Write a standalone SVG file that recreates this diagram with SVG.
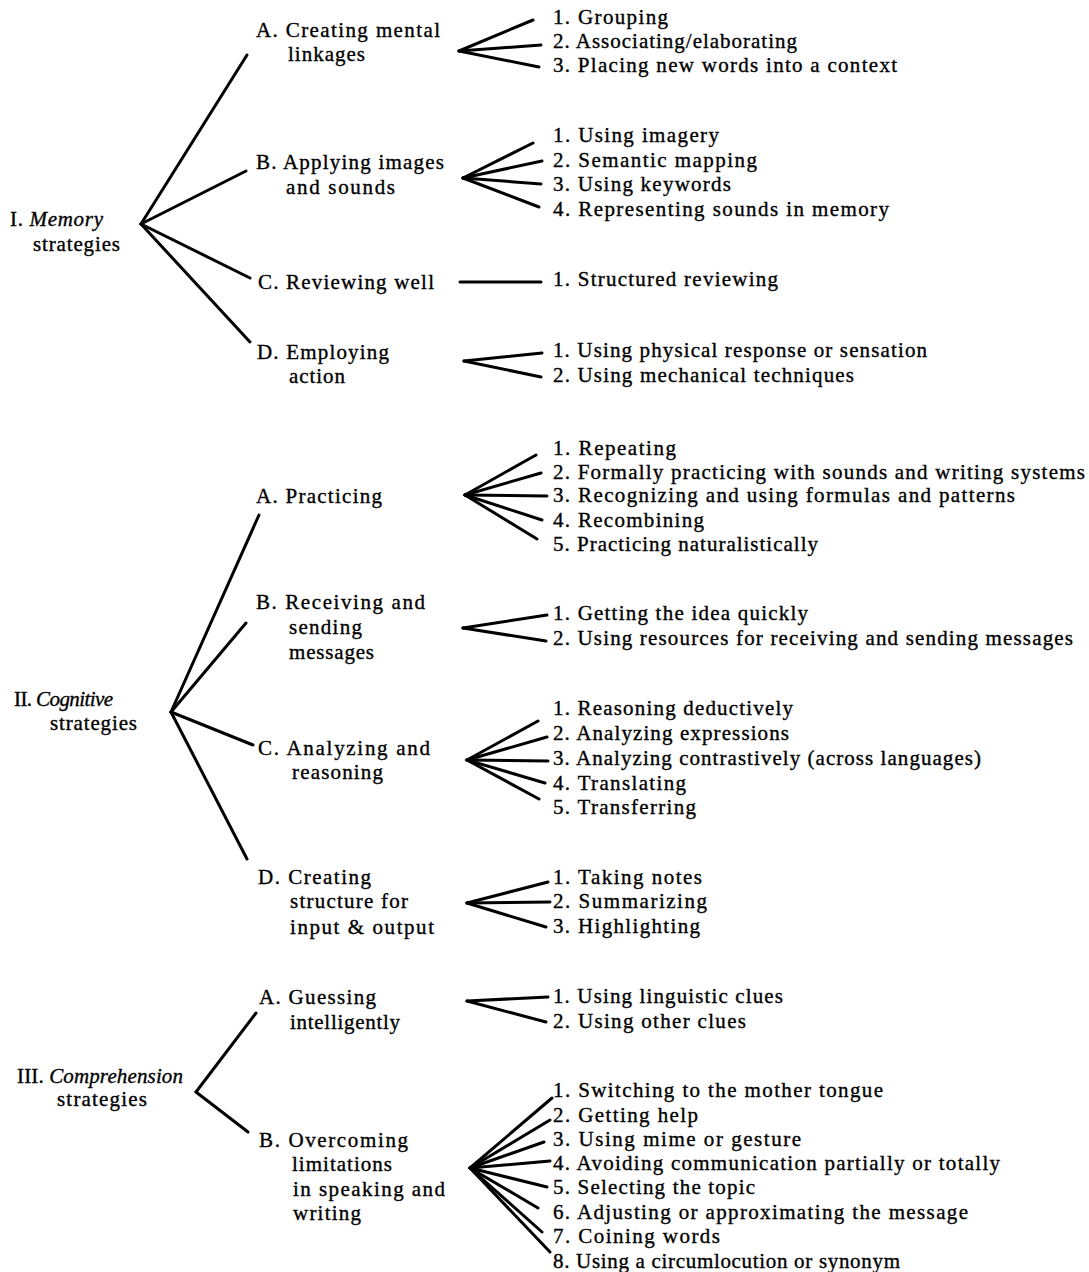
<svg xmlns="http://www.w3.org/2000/svg" width="1089" height="1272" viewBox="0 0 1089 1272">
<style>
text{font-family:"Liberation Serif","Times New Roman",serif;font-size:21px;fill:#000;stroke:#000;stroke-width:0.35;}
.it{font-style:italic;}
.c line{stroke:#000;stroke-width:3;stroke-linecap:round;}
</style>
<rect width="1089" height="1272" fill="#fff"/>
<g class="c" id="connectors">
<line x1="141" y1="224" x2="247" y2="55"/>
<line x1="141" y1="224" x2="246" y2="171"/>
<line x1="141" y1="224" x2="250" y2="278"/>
<line x1="141" y1="224" x2="250" y2="342"/>
<line x1="459" y1="51" x2="533" y2="20"/>
<line x1="459" y1="51" x2="541" y2="45"/>
<line x1="459" y1="51" x2="539" y2="67"/>
<line x1="463" y1="178" x2="533" y2="143"/>
<line x1="463" y1="178" x2="542" y2="161"/>
<line x1="463" y1="178" x2="541" y2="184"/>
<line x1="463" y1="178" x2="539" y2="207"/>
<line x1="460" y1="282" x2="541" y2="282"/>
<line x1="464" y1="361" x2="542" y2="353"/>
<line x1="464" y1="361" x2="541" y2="377"/>
<line x1="171" y1="712" x2="259" y2="515"/>
<line x1="171" y1="712" x2="246" y2="623"/>
<line x1="171" y1="712" x2="253" y2="745"/>
<line x1="171" y1="712" x2="247" y2="859"/>
<line x1="465" y1="495" x2="536" y2="455"/>
<line x1="465" y1="495" x2="541" y2="473"/>
<line x1="465" y1="495" x2="547" y2="496"/>
<line x1="465" y1="495" x2="542" y2="520"/>
<line x1="465" y1="495" x2="537" y2="539"/>
<line x1="463" y1="628" x2="547" y2="615"/>
<line x1="463" y1="628" x2="546" y2="641"/>
<line x1="467" y1="760" x2="538" y2="721"/>
<line x1="467" y1="760" x2="547" y2="737"/>
<line x1="467" y1="760" x2="548" y2="761"/>
<line x1="467" y1="760" x2="545" y2="783"/>
<line x1="467" y1="760" x2="539" y2="799"/>
<line x1="467" y1="903" x2="548" y2="882"/>
<line x1="467" y1="903" x2="550" y2="902"/>
<line x1="467" y1="903" x2="546" y2="927"/>
<line x1="196" y1="1092" x2="256" y2="1013"/>
<line x1="196" y1="1092" x2="248" y2="1132"/>
<line x1="467" y1="1001" x2="548" y2="997"/>
<line x1="467" y1="1001" x2="546" y2="1022"/>
<line x1="470" y1="1168" x2="552" y2="1098"/>
<line x1="470" y1="1168" x2="550" y2="1120"/>
<line x1="470" y1="1168" x2="544" y2="1142"/>
<line x1="470" y1="1168" x2="550" y2="1161"/>
<line x1="470" y1="1168" x2="547" y2="1187"/>
<line x1="470" y1="1168" x2="538" y2="1208"/>
<line x1="470" y1="1168" x2="542" y2="1232"/>
<line x1="470" y1="1168" x2="550" y2="1252"/>
</g>

<g id="n-I">
<text x="10" y="226" textLength="93">I. <tspan class="it">Memory</tspan></text>
<text x="33" y="251" textLength="87">strategies</text>
</g>
<g id="n-IA">
<text x="256" y="37" textLength="184">A. Creating mental</text>
<text x="288" y="61" textLength="77">linkages</text>
</g>
<g id="n-IA-items">
<text x="553" y="24" textLength="115">1. Grouping</text>
<text x="553" y="48" textLength="244">2. Associating/elaborating</text>
<text x="553" y="72" textLength="344">3. Placing new words into a context</text>
</g>
<g id="n-IB">
<text x="256" y="169" textLength="188">B. Applying images</text>
<text x="286" y="194" textLength="109">and sounds</text>
</g>
<g id="n-IB-items">
<text x="553" y="142" textLength="166">1. Using imagery</text>
<text x="553" y="167" textLength="204">2. Semantic mapping</text>
<text x="553" y="191" textLength="178">3. Using keywords</text>
<text x="553" y="216" textLength="336">4. Representing sounds in memory</text>
</g>
<g id="n-IC">
<text x="258" y="289" textLength="176">C. Reviewing well</text>
</g>
<g id="n-IC-items">
<text x="553" y="286" textLength="225">1. Structured reviewing</text>
</g>
<g id="n-ID">
<text x="257" y="359" textLength="132">D. Employing</text>
<text x="289" y="383" textLength="56">action</text>
</g>
<g id="n-ID-items">
<text x="553" y="357" textLength="374">1. Using physical response or sensation</text>
<text x="553" y="382" textLength="301">2. Using mechanical techniques</text>
</g>

<g id="n-II">
<text x="14" y="706" textLength="99">II. <tspan class="it">Cognitive</tspan></text>
<text x="50" y="730" textLength="87">strategies</text>
</g>
<g id="n-IIA">
<text x="256" y="503" textLength="126">A. Practicing</text>
</g>
<g id="n-IIA-items">
<text x="553" y="455" textLength="123">1. Repeating</text>
<text x="553" y="479" textLength="532">2. Formally practicing with sounds and writing systems</text>
<text x="553" y="502" textLength="462">3. Recognizing and using formulas and patterns</text>
<text x="553" y="527" textLength="151">4. Recombining</text>
<text x="553" y="551" textLength="265">5. Practicing naturalistically</text>
</g>
<g id="n-IIB">
<text x="256" y="609" textLength="169">B. Receiving and</text>
<text x="289" y="634" textLength="73">sending</text>
<text x="289" y="659" textLength="85">messages</text>
</g>
<g id="n-IIB-items">
<text x="553" y="620" textLength="255">1. Getting the idea quickly</text>
<text x="553" y="645" textLength="520">2. Using resources for receiving and sending messages</text>
</g>
<g id="n-IIC">
<text x="258" y="755" textLength="172">C. Analyzing and</text>
<text x="292" y="779" textLength="91">reasoning</text>
</g>
<g id="n-IIC-items">
<text x="553" y="715" textLength="240">1. Reasoning deductively</text>
<text x="553" y="740" textLength="236">2. Analyzing expressions</text>
<text x="553" y="765" textLength="428">3. Analyzing contrastively (across languages)</text>
<text x="553" y="790" textLength="133">4. Translating</text>
<text x="553" y="814" textLength="143">5. Transferring</text>
</g>
<g id="n-IID">
<text x="258" y="884" textLength="113">D. Creating</text>
<text x="290" y="908" textLength="118">structure for</text>
<text x="290" y="934" textLength="144">input &amp; output</text>
</g>
<g id="n-IID-items">
<text x="553" y="884" textLength="149">1. Taking notes</text>
<text x="553" y="908" textLength="154">2. Summarizing</text>
<text x="553" y="933" textLength="147">3. Highlighting</text>
</g>

<g id="n-III">
<text x="17" y="1083" textLength="166">III. <tspan class="it">Comprehension</tspan></text>
<text x="57" y="1106" textLength="90">strategies</text>
</g>
<g id="n-IIIA">
<text x="259" y="1004" textLength="117">A. Guessing</text>
<text x="290" y="1029" textLength="110">intelligently</text>
</g>
<g id="n-IIIA-items">
<text x="553" y="1003" textLength="230">1. Using linguistic clues</text>
<text x="553" y="1028" textLength="193">2. Using other clues</text>
</g>
<g id="n-IIIB">
<text x="259" y="1147" textLength="149">B. Overcoming</text>
<text x="292" y="1171" textLength="100">limitations</text>
<text x="293" y="1196" textLength="152">in speaking and</text>
<text x="293" y="1220" textLength="68">writing</text>
</g>
<g id="n-IIIB-items">
<text x="553" y="1097" textLength="330">1. Switching to the mother tongue</text>
<text x="553" y="1122" textLength="145">2. Getting help</text>
<text x="553" y="1146" textLength="248">3. Using mime or gesture</text>
<text x="553" y="1170" textLength="447">4. Avoiding communication partially or totally</text>
<text x="553" y="1194" textLength="202">5. Selecting the topic</text>
<text x="553" y="1219" textLength="415">6. Adjusting or approximating the message</text>
<text x="553" y="1243" textLength="167">7. Coining words</text>
<text x="553" y="1268" textLength="347">8. Using a circumlocution or synonym</text>
</g>
</svg>
